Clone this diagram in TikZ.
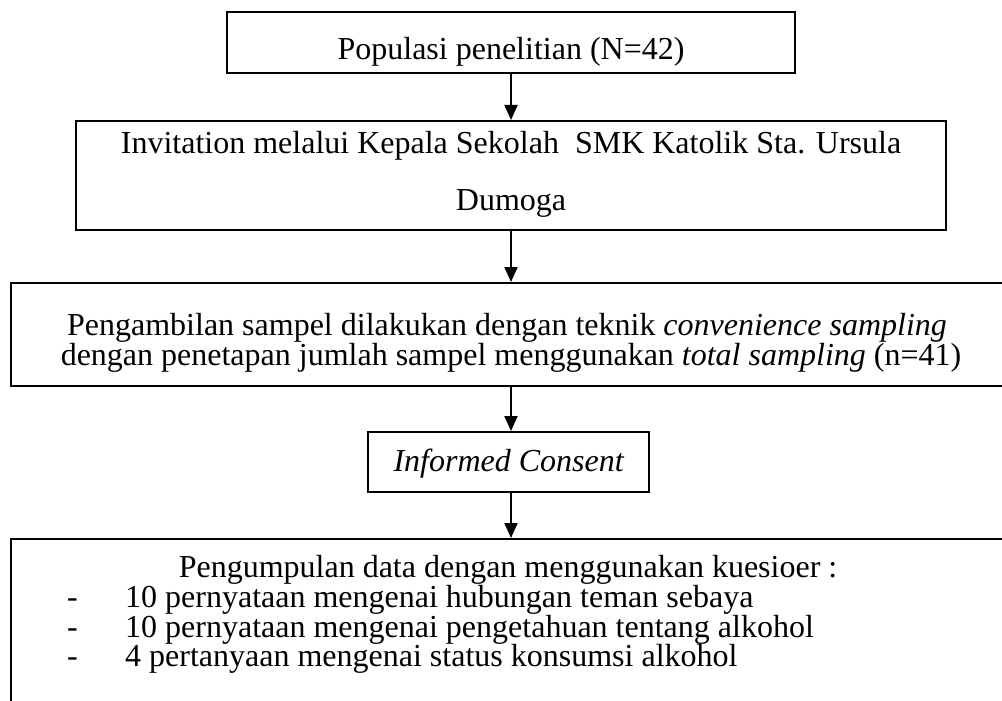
\documentclass[tikz,border=0pt]{standalone}
\usepackage{fontspec}
\setmainfont{Liberation Serif}
\usetikzlibrary{arrows.meta}
\begin{document}
\begin{tikzpicture}[x=1pt,y=-1pt,
  box/.style={draw=black,line width=2pt,rectangle,inner sep=0pt},
  txt/.style={inner sep=0pt,anchor=base,font=\fontsize{32}{30}\selectfont},
  arr/.style={draw=black,line width=2pt,-{Triangle[width=13pt,length=15pt]}}]
\path[use as bounding box,fill=white] (0,0) rectangle (1002,701);
\clip (0,0) rectangle (1002,701);
% boxes of the flow
\node[box,minimum width=568pt,minimum height=61pt]   (b1) at (511,42.5)  {};
\node[box,minimum width=870pt,minimum height=109pt]  (b2) at (511,175.5) {};
\node[box,minimum width=1000pt,minimum height=103pt] (b3) at (511,334.5) {};
\node[box,minimum width=281pt,minimum height=60pt]   (b4) at (508.5,462) {};
\node[box,minimum width=1000pt,minimum height=221pt] (b5) at (511,649.5) {};
% texts
\node[txt] (t1)  at (511,60)  {Populasi penelitian (N=42)};
\node[txt] (t2a) at (511,153) {Invitation melalui Kepala Sekolah\ \ SMK Katolik Sta. Ursula};
\node[txt] (t2b) at (511,210) {Dumoga};
\node[txt] (t3a) at (507,335) {Pengambilan sampel dilakukan dengan teknik \textit{convenience sampling}};
\node[txt] (t3b) at (511,365) {dengan penetapan jumlah sampel menggunakan \textit{total sampling} (n=41)};
\node[txt] (t4)  at (509,471) {\textit{Informed Consent}};
\node[txt] (t5)  at (508,577) {Pengumpulan data dengan menggunakan kuesioer :};
\node[txt,anchor=base west] (d1) at (67,607) {-};
\node[txt,anchor=base west] (d2) at (67,637) {-};
\node[txt,anchor=base west] (d3) at (67,666) {-};
\node[txt,anchor=base west] (l1) at (125,607) {10 pernyataan mengenai hubungan teman sebaya};
\node[txt,anchor=base west] (l2) at (125,637) {10 pernyataan mengenai pengetahuan tentang alkohol};
\node[txt,anchor=base west] (l3) at (125,666) {4 pertanyaan mengenai status konsumsi alkohol};
% connectors
\draw[arr] (b1.south) -- (b2.north);
\draw[arr] (b2.south) -- (b3.north);
\draw[arr] (b3.south) -- (b3.south |- b4.north);
\draw[arr] (b4.south -| b3.south) -- (b5.north);
\end{tikzpicture}
\end{document}
